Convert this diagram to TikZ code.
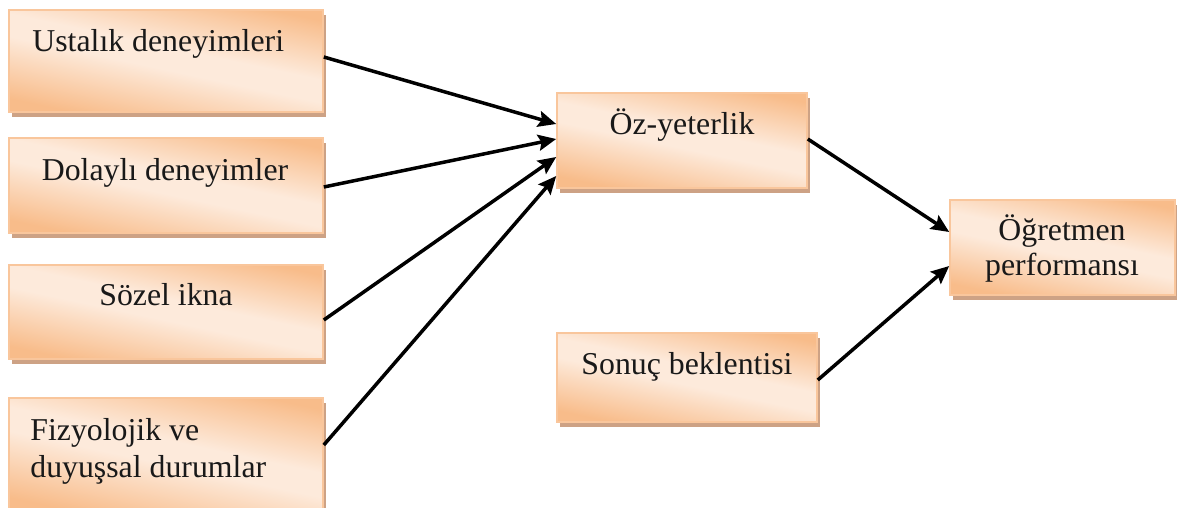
\documentclass[tikz,border=0pt]{standalone}
\usepackage{fontspec}
\setmainfont{Liberation Serif}
\usetikzlibrary{arrows.meta,shadows}

\definecolor{peachdark}{HTML}{F8BC8A}
\definecolor{peachlight}{HTML}{FDEADB}
\definecolor{peachedge}{HTML}{F9C69C}
\definecolor{shadowtan}{HTML}{CDA285}

\pgfdeclareverticalshading{peachband}{100bp}{%
  color(0bp)=(peachdark); color(25bp)=(peachdark);
  color(47bp)=(peachlight); color(55bp)=(peachlight);
  color(76bp)=(peachdark); color(100bp)=(peachdark)}

\tikzset{
  x=0.5pt, y=-0.5pt,
  box/.style={rectangle, draw=peachedge, line width=0.8pt,
    shading=peachband, shading angle=-12, inner sep=0pt,
    general shadow={fill=shadowtan, shadow xshift=1.5pt, shadow yshift=-2.5pt}},
  label/.style={inner sep=0pt, font=\fontsize{15.9}{18.5}\selectfont, text=black!90},
  link/.style={line width=1.75pt, -{Stealth[length=9pt,width=8pt,inset=1.5pt]}},
}

\begin{document}
\begin{tikzpicture}
  \clip (0,0) rectangle (1177,508);
  \useasboundingbox (0,0) rectangle (1177,508);

  % source boxes on the left
  \node[box, minimum width=157pt, minimum height=51pt]   (b1)  at (166,61)    {};
  \node[box, minimum width=157pt, minimum height=47.5pt] (b2)  at (166,185.5) {};
  \node[box, minimum width=157pt, minimum height=47pt]   (b3)  at (166,312)   {};
  \node[box, minimum width=157pt, minimum height=57pt]   (b4)  at (166,455)   {};
  % middle and right boxes
  \node[box, minimum width=125pt, minimum height=47.5pt] (oz)  at (682,140.5) {};
  \node[box, minimum width=130pt, minimum height=44.5pt] (son) at (687,377.5) {};
  \node[box, minimum width=112.5pt, minimum height=47.5pt] (ogr) at (1062.5,247.5) {};

  % box texts (base anchor of a two-line node sits on its last line)
  \node[label, anchor=base west] (t1) at (32,52)  {Ustalık deneyimleri};
  \node[label, anchor=base]      (t2) at (165,180) {Dolaylı deneyimler};
  \node[label, anchor=base]      (t3) at (166,305) {Sözel ikna};
  \node[label, anchor=base west, align=left] (t4) at (30,477) {Fizyolojik ve\\duyuşsal durumlar};
  \node[label, anchor=base]      (t5) at (682,134) {Öz-yeterlik};
  \node[label, anchor=base]      (t6) at (687,374) {Sonuç beklentisi};
  \node[label, anchor=base, align=center, font=\fontsize{15.9}{17.5}\selectfont] (t7) at (1062,275) {Öğretmen\\performansı};

  % connectors
  \draw[link] ([yshift=2pt]b1.east)     -- ([yshift=8.25pt]oz.west);
  \draw[link] ([yshift=-0.75pt]b2.east) -- ([yshift=0.75pt]oz.west);
  \draw[link] ([yshift=-4pt]b3.east)    -- ([yshift=-8.25pt]oz.west);
  \draw[link] ([yshift=5pt]b4.east)     -- ([yshift=-17.75pt]oz.west);
  \draw[link] ([yshift=0.75pt]oz.east)  -- ([yshift=7.75pt]ogr.west);
  \draw[link] ([yshift=-1.25pt]son.east) -- ([yshift=-9.25pt]ogr.west);
\end{tikzpicture}
\end{document}
